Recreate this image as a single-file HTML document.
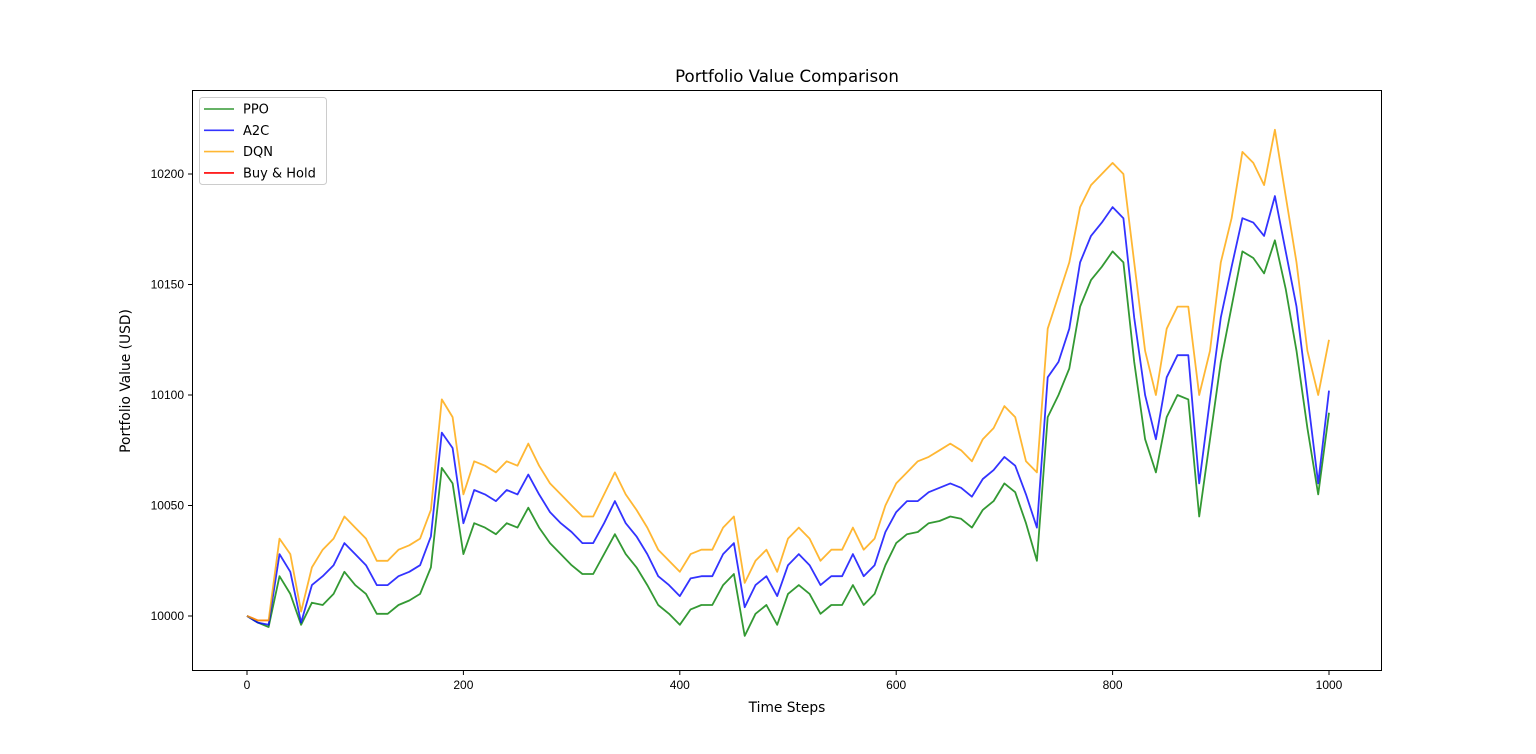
<!DOCTYPE html>
<html><head><meta charset="utf-8"><style>
body{margin:0;background:#fff;}
svg{display:block;font-family:"DejaVu Sans","Liberation Sans",sans-serif;}
</style></head><body>
<svg id="chart" width="1536" height="754">
<rect width="1536" height="754" fill="#fff"/>
<text x="787" y="82" text-anchor="middle" font-size="16.6">Portfolio Value Comparison</text>
<text x="787" y="712" text-anchor="middle" font-size="13.8">Time Steps</text>
<text transform="translate(130,381) rotate(-90)" text-anchor="middle" font-size="13.8">Portfolio Value (USD)</text>
<g id="ticks"></g>
<g id="series"></g>
<rect x="192.5" y="90.5" width="1189" height="580" fill="none" stroke="#000" stroke-width="1"/>
<g id="legend"></g>
</svg>
<script>
const steps = [0,10,20,30,40,50,60,70,80,90,100,110,120,130,140,150,160,170,180,190,200,210,220,230,240,250,260,270,280,290,300,310,320,330,340,350,360,370,380,390,400,410,420,430,440,450,460,470,480,490,500,510,520,530,540,550,560,570,580,590,600,610,620,630,640,650,660,670,680,690,700,710,720,730,740,750,760,770,780,790,800,810,820,830,840,850,860,870,880,890,900,910,920,930,940,950,960,970,980,990,1000];
const dqn = [10000,9998,9998,10035,10028,10002,10022,10030,10035,10045,10040,10035,10025,10025,10030,10032,10035,10048,10098,10090,10055,10070,10068,10065,10070,10068,10078,10068,10060,10055,10050,10045,10045,10055,10065,10055,10048,10040,10030,10025,10020,10028,10030,10030,10040,10045,10015,10025,10030,10020,10035,10040,10035,10025,10030,10030,10040,10030,10035,10050,10060,10065,10070,10072,10075,10078,10075,10070,10080,10085,10095,10090,10070,10065,10130,10145,10160,10185,10195,10200,10205,10200,10160,10120,10100,10130,10140,10140,10100,10120,10160,10180,10210,10205,10195,10220,10190,10160,10120,10100,10125];
const a2c = [10000,9997,9996,10028,10020,9997,10014,10018,10023,10033,10028,10023,10014,10014,10018,10020,10023,10036,10083,10076,10042,10057,10055,10052,10057,10055,10064,10055,10047,10042,10038,10033,10033,10042,10052,10042,10036,10028,10018,10014,10009,10017,10018,10018,10028,10033,10004,10014,10018,10009,10023,10028,10023,10014,10018,10018,10028,10018,10023,10038,10047,10052,10052,10056,10058,10060,10058,10054,10062,10066,10072,10068,10055,10040,10108,10115,10130,10160,10172,10178,10185,10180,10135,10100,10080,10108,10118,10118,10060,10098,10135,10158,10180,10178,10172,10190,10165,10140,10100,10060,10102];
const ppo = [10000,9997,9995,10018,10010,9996,10006,10005,10010,10020,10014,10010,10001,10001,10005,10007,10010,10022,10067,10060,10028,10042,10040,10037,10042,10040,10049,10040,10033,10028,10023,10019,10019,10028,10037,10028,10022,10014,10005,10001,9996,10003,10005,10005,10014,10019,9991,10001,10005,9996,10010,10014,10010,10001,10005,10005,10014,10005,10010,10023,10033,10037,10038,10042,10043,10045,10044,10040,10048,10052,10060,10056,10042,10025,10090,10100,10112,10140,10152,10158,10165,10160,10115,10080,10065,10090,10100,10098,10045,10080,10115,10140,10165,10162,10155,10170,10148,10120,10085,10055,10092];
const holdSteps = [0,10,20];
const hold = [10000,9998,9998];
const xTicks = [0,200,400,600,800,1000];
const yTicks = [10000,10050,10100,10150,10200];

const NS = "http://www.w3.org/2000/svg";
const X = v => 247 + (v - 0) * (1329 - 247) / 1000;
const Y = v => 616 - (v - 10000) * (616 - 174) / 200;
function mk(tag, attrs, parent){const e=document.createElementNS(NS,tag);for(const k in attrs)e.setAttribute(k,attrs[k]);parent.appendChild(e);return e;}

const tg = document.getElementById('ticks');
xTicks.forEach(t=>{
  const l = mk('line',{x1:X(t),x2:X(t),y1:671,y2:675,stroke:'#000'},tg);
  
  
  const tx = mk('text',{x:X(t),y:689,'text-anchor':'middle','font-size':12,'font-family':'Liberation Sans, sans-serif'},tg);
  tx.textContent = t;
  
  
});
yTicks.forEach(t=>{
  const l = mk('line',{x1:188,x2:192,y1:Y(t),y2:Y(t),stroke:'#000'},tg);
  
  
  const tx = mk('text',{x:184,y:Y(t)+4,'text-anchor':'end','font-size':12,'font-family':'Liberation Sans, sans-serif'},tg);
  tx.textContent = t;
  
  
});

const sg = document.getElementById('series');
function line(xs, vals, color, name){
  const d = vals.map((v,i)=>(i?'L':'M')+X(xs[i]).toFixed(1)+','+Y(v).toFixed(1)).join('');
  const p = mk('path',{d:d,fill:'none',stroke:color,'stroke-opacity':0.8,'stroke-width':1.8,'stroke-linejoin':'round'},sg);
  
  
}
line(holdSteps, hold, '#ff0000', 'buy-hold-line');
line(steps, ppo, '#008000', 'ppo-line');
line(steps, a2c, '#0000ff', 'a2c-line');
line(steps, dqn, '#ffa500', 'dqn-line');

const lg = document.getElementById('legend');
const box = mk('rect',{x:199.5,y:97.5,width:127,height:87,rx:3,fill:'#fff','fill-opacity':0.8,stroke:'#ccc'},lg);


const entries = [['PPO','#008000'],['A2C','#0000ff'],['DQN','#ffa500'],['Buy & Hold','#ff0000']];
entries.forEach((e,i)=>{
  const y = 109 + i*21.3;
  const g = mk('g',{},lg);
  
  
  mk('line',{x1:204,x2:234,y1:y,y2:y,stroke:e[1],'stroke-opacity':e[0]==='Buy & Hold'?1:0.8,'stroke-width':1.6},g);
  const t = mk('text',{x:243,y:y+4.5,'font-size':13},g);
  t.textContent = e[0];
});
</script>
</body></html>
